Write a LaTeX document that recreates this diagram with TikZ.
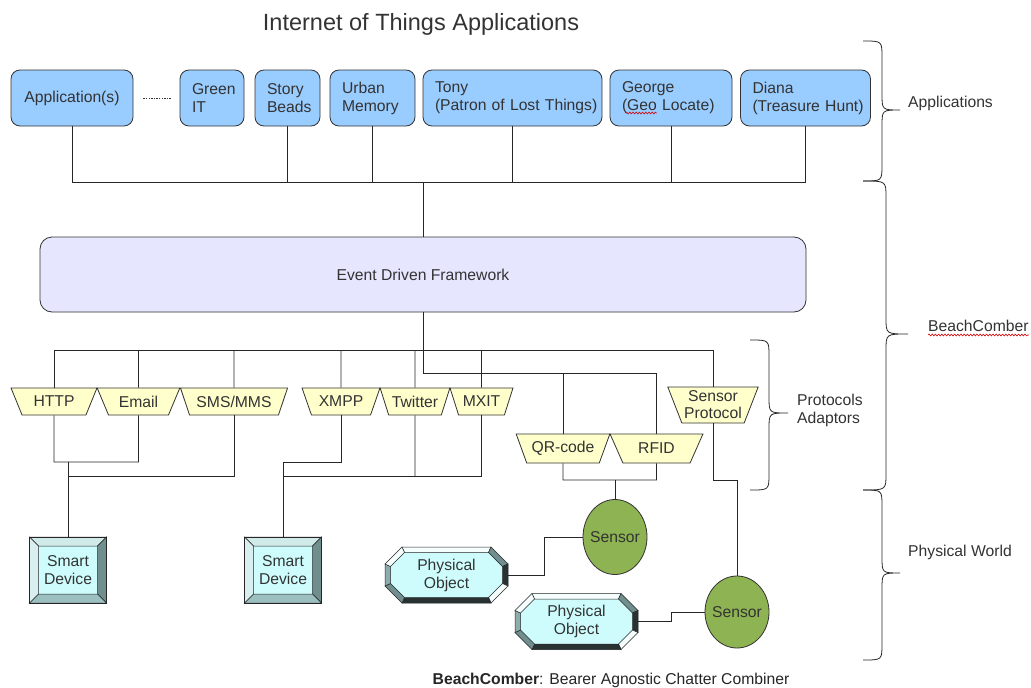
\documentclass[tikz,border=0pt]{standalone}
\usepackage{fontspec}
\setmainfont{Liberation Sans}
\usetikzlibrary{shapes.geometric,calc,decorations.pathmorphing}

\definecolor{appblue}{RGB}{153,204,255}
\definecolor{edflav}{RGB}{230,230,255}
\definecolor{protoyel}{RGB}{255,255,204}
\definecolor{sensgreen}{RGB}{141,179,82}
\definecolor{devcyan}{RGB}{206,252,252}
\definecolor{ink}{RGB}{51,51,51}
\definecolor{wirec}{RGB}{38,38,38}
\definecolor{bevlight}{RGB}{208,234,234}
\definecolor{bevmid}{RGB}{156,192,192}
\definecolor{bevdark}{RGB}{112,142,142}
\definecolor{bevwhite}{RGB}{246,253,253}
\definecolor{bevblack}{RGB}{40,50,50}

\tikzset{
  bevel/.style={draw=wirec, line width=0.5pt},
  % bevelled square key cap, 77 x 66
  keycap/.pic={
    \fill[devcyan] (-38.5,-33) rectangle (38.5,33);
    \filldraw[bevel, fill=bevlight] (-38.5,-33) -- (38.5,-33) -- (29.5,-24) -- (-29.5,-24) -- cycle;
    \filldraw[bevel, fill=bevdark] (38.5,-33) -- (38.5,33) -- (29.5,24) -- (29.5,-24) -- cycle;
    \filldraw[bevel, fill=bevmid] (38.5,33) -- (-38.5,33) -- (-29.5,24) -- (29.5,24) -- cycle;
    \filldraw[bevel, fill=bevlight!80!white] (-38.5,33) -- (-38.5,-33) -- (-29.5,-24) -- (-29.5,24) -- cycle;
    \draw[wirec, line width=0.6pt] (-38.5,-33) rectangle (38.5,33);
  },
  % bevelled octagon, 123 x 56
  octocap/.pic={
    \fill[devcyan] (-44.5,-28) -- (44.5,-28) -- (61.5,-11) -- (61.5,11) -- (44.5,28)
      -- (-44.5,28) -- (-61.5,11) -- (-61.5,-11) -- cycle;
    \filldraw[bevel, fill=bevwhite] (-44.5,-28) -- (44.5,-28) -- (42,-22.5) -- (-42,-22.5) -- cycle;
    \filldraw[bevel, fill=bevdark] (44.5,-28) -- (61.5,-11) -- (56,-8.5) -- (42,-22.5) -- cycle;
    \filldraw[bevel, fill=bevblack] (61.5,-11) -- (61.5,11) -- (56,8.5) -- (56,-8.5) -- cycle;
    \filldraw[bevel, fill=bevwhite] (61.5,11) -- (44.5,28) -- (42,22.5) -- (56,8.5) -- cycle;
    \filldraw[bevel, fill=bevblack] (44.5,28) -- (-44.5,28) -- (-42,22.5) -- (42,22.5) -- cycle;
    \filldraw[bevel, fill=bevdark] (-44.5,28) -- (-61.5,11) -- (-56,8.5) -- (-42,22.5) -- cycle;
    \filldraw[bevel, fill=bevmid!90!black] (-61.5,11) -- (-61.5,-11) -- (-56,-8.5) -- (-56,8.5) -- cycle;
    \filldraw[bevel, fill=bevwhite] (-61.5,-11) -- (-44.5,-28) -- (-42,-22.5) -- (-56,-8.5) -- cycle;
  }
}

\begin{document}
\begin{tikzpicture}[x=1pt,y=-1pt,
  every node/.style={text=ink, font=\fontsize{15.7}{18}\selectfont},
  wire/.style={draw=wirec, line width=0.9pt},
  app/.style={draw=ink, line width=0.8pt, fill=appblue, rounded corners=9pt,
    minimum height=56pt, inner xsep=12pt, inner ysep=0pt, align=left},
  framework/.style={draw=ink, line width=0.8pt, fill=edflav, rounded corners=12pt,
    minimum width=766pt, minimum height=75pt},
  proto/.style={trapezium, trapezium stretches=true, shape border rotate=180,
    trapezium left angle=60, trapezium right angle=60, draw=ink, line width=0.8pt,
    fill=protoyel, inner sep=1pt, minimum height=27pt, align=center,
    font=\fontsize{15.7}{17}\selectfont},
  sensor/.style={ellipse, draw=ink, line width=0.8pt, fill=sensgreen, inner sep=0pt},
  smart/.style={rectangle, minimum width=77pt, minimum height=66pt, inner sep=0pt, align=center},
  physobj/.style={rectangle, minimum width=123pt, minimum height=56pt, inner sep=0pt, align=center},
  sidelabel/.style={anchor=base west, inner sep=0pt},
  bracepath/.style={draw=wirec, line width=0.8pt},
  spell/.style={draw=red!85!black, line width=0.6pt, decorate,
    decoration={snake, amplitude=0.9pt, segment length=3.2pt}}
]
\fill[white] (0,0) rectangle (1031,688);
\useasboundingbox (0,0) rectangle (1031,688);

% title
\node[font=\fontsize{23.5}{28}\selectfont, anchor=base] (title) at (421,30) {Internet of Things Applications};

% application layer
\node[app, minimum width=122pt, align=center] (apps) at (72,98) {Application(s)};
\node[app, minimum width=64pt, text width=40pt] (green) at (212,98) {Green\\IT};
\node[app, minimum width=65pt, text width=41pt] (story) at (287.5,98) {Story\\Beads};
\node[app, minimum width=85pt, text width=61pt] (urban) at (372.5,98) {Urban\\Memory};
\node[app, minimum width=179pt, text width=155pt] (tony) at (512.5,98) {Tony\\(Patron~of~Lost~Things)};
\node[app, minimum width=122pt, text width=98pt] (george) at (671,98) {George\\(Geo~Locate)};
\node[app, minimum width=130pt, text width=106pt] (diana) at (805.5,98) {Diana\\(Treasure~Hunt)};
\draw[draw=ink, line width=0.9pt, dash pattern=on 1.4pt off 1.2pt]
  ($(apps.east)+(10,0)$) -- ($(green.west)+(-9,0)$);
\draw[spell] ($(george.west)+(16,15)$) -- ($(george.west)+(47,15)$);

% framework
\node[framework] (edf) at (423,274.5) {Event Driven Framework};

% protocol adaptors
\node[proto, minimum width=86pt] (http) at (54,401.5) {HTTP};
\node[proto, minimum width=83pt] (email) at (138.5,401.5) {Email};
\node[proto, minimum width=108pt] (sms) at (234,401.5) {SMS/MMS};
\node[proto, minimum width=78pt] (xmpp) at (341,401.5) {XMPP};
\node[proto, minimum width=70pt] (twitter) at (415,401.5) {Twitter};
\node[proto, minimum width=63pt] (mxit) at (481.5,401.5) {MXIT};
\node[proto, minimum width=94pt, minimum height=29pt] (qr) at (563,448.5) {QR-code};
\node[proto, minimum width=93pt, minimum height=29pt] (rfid) at (656.5,448.5) {RFID};
\node[proto, minimum width=91pt, minimum height=36pt, trapezium left angle=66,
  trapezium right angle=66] (sensorp) at (713,405) {Sensor\\Protocol};

% physical world
\pic at (68,570) {keycap};
\node[smart] (sd1) at (68,570) {Smart\\Device};
\pic at (283,570) {keycap};
\node[smart] (sd2) at (283,570) {Smart\\Device};
\node[sensor, minimum width=64pt, minimum height=75pt] (s1) at (615,537) {\makebox[0pt]{Sensor}};
\node[sensor, minimum width=64pt, minimum height=72pt] (s2) at (737,612) {\makebox[0pt]{Sensor}};
\pic at (446.5,575) {octocap};
\node[physobj] (po1) at (446.5,575) {Physical\\Object};
\pic at (576.5,621.5) {octocap};
\node[physobj] (po2) at (576.5,621.5) {Physical\\Object};

% application bus
\coordinate (abus) at (423,182);
\draw[wire] (apps) |- (abus);
\draw[wire] (diana) |- (abus);
\foreach \n in {story,urban,tony,george} \draw[wire] (\n) -- (\n |- abus);
\draw[wire] (abus) -- (edf);

% protocol bus
\coordinate (pbus) at (423,350);
\coordinate (qbus) at (423,373);
\draw[wire] (edf) -- (qbus);
\draw[wire] (http) |- (pbus);
\draw[wire] (sensorp) |- (pbus);
\foreach \n in {email,sms,xmpp,twitter,mxit} \draw[wire] (\n) -- (\n |- pbus);
\draw[wire] (qr) |- (qbus);
\draw[wire] (rfid) |- (qbus);

% adaptors down to devices
\coordinate (j1) at (68,462);
\coordinate (j2) at (68,476);
\draw[wire] (http) |- (email |- j1) -- (email);
\draw[wire] (j1) -- (sd1);
\draw[wire] (j2) -| (sms);
\coordinate (j3) at (283,462);
\coordinate (j4) at (283,476);
\draw[wire] (xmpp) |- (j3) -- (sd2);
\draw[wire] (j4) -| (mxit);
\draw[wire] (twitter) -- (twitter |- j4);
\coordinate (j5) at (615,480);
\draw[wire] (qr) |- (rfid |- j5) -- (rfid);
\draw[wire] (j5) -- (s1);
\coordinate (j6) at (713,480);
\draw[wire] (sensorp) -- (j6) -| (s2);
\coordinate (k1) at (544,575);
\draw[wire] (po1) -- (k1) |- (s1);
\coordinate (k2) at (671,621.5);
\draw[wire] (po2) -- (k2) |- (s2);

% braces: #1 open x, #2 spine x, #3 tip x, #4 top y, #5 tip y, #6 bottom y
\newcommand\sidebrace[6]{%
  \draw[bracepath] (#1,#4) .. controls (#2,#4) .. (#2,#4+16) -- (#2,#5-16)
    .. controls (#2,#5) .. (#3,#5) .. controls (#2,#5) .. (#2,#5+16)
    -- (#2,#6-16) .. controls (#2,#6) .. (#1,#6);}
\sidebrace{863}{882}{900}{41}{110}{181}
\sidebrace{863}{886}{908}{181}{334}{490}
\sidebrace{863}{882}{900}{490}{573}{660}
\sidebrace{750}{769}{788}{340}{413}{490}

\node[sidelabel] (lapps) at (908,107.5) {Applications};
\node[sidelabel] (lbc) at (928,331) {BeachComber};
\draw[spell] ($(lbc.base west)+(0,4)$) -- ($(lbc.base east)+(0,4)$);
\node[anchor=west, inner sep=0pt, align=left] (lproto) at (797,410) {Protocols\\Adaptors};
\node[sidelabel] (lphys) at (908,556) {Physical World};

% caption
\node[anchor=base, inner sep=0pt, text=black!85] (caption) at (611,684)
  {\textbf{BeachComber}: Bearer Agnostic Chatter Combiner};
\end{tikzpicture}
\end{document}
